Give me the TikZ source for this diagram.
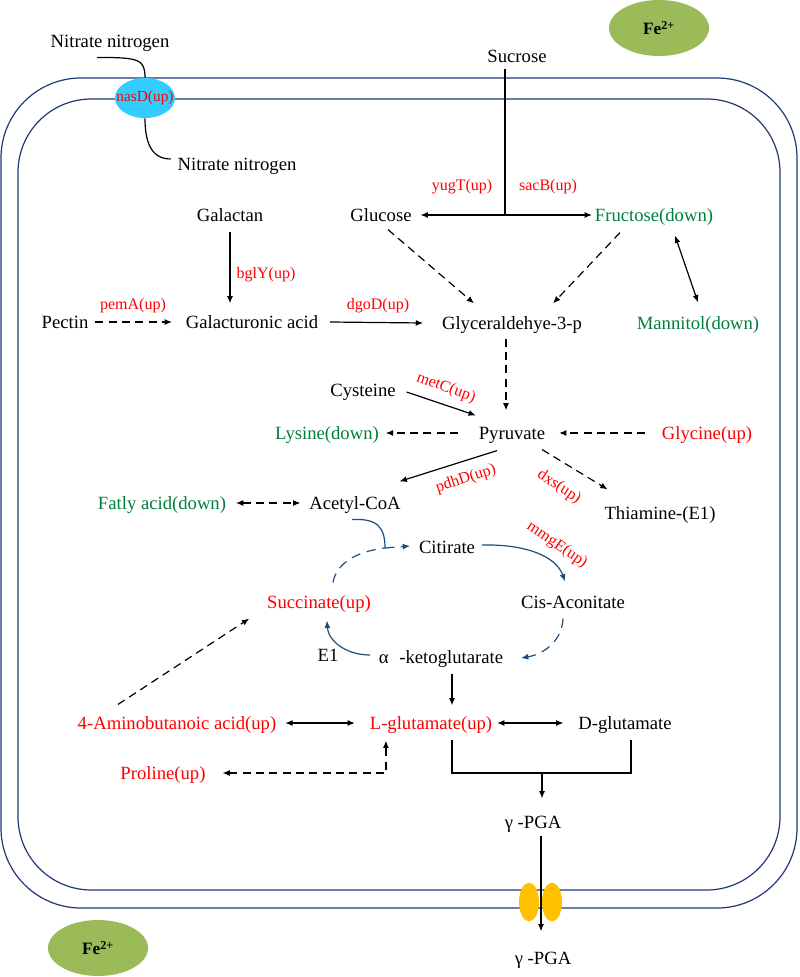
\documentclass[tikz,border=0pt]{standalone}
\usepackage{fontspec}
\setmainfont{Liberation Serif}
\usetikzlibrary{arrows.meta,calc,shapes.geometric}
\definecolor{memb}{RGB}{32,56,120}
\definecolor{cyc}{RGB}{31,78,121}
\definecolor{gr}{RGB}{0,128,60}
\definecolor{rd}{RGB}{255,0,0}
\definecolor{olive}{RGB}{155,187,89}
\definecolor{skyb}{RGB}{51,204,255}
\definecolor{yel}{RGB}{255,192,0}
\begin{document}
\begin{tikzpicture}[x=0.75pt,y=-0.75pt,
  lab/.style={font=\fontsize{14}{16}\selectfont, inner sep=2pt, text height=11pt, text depth=2pt},
  gene/.style={font=\fontsize{12}{14}\selectfont, text=rd, inner sep=0pt},
  arr/.style={-{Latex[length=5.5pt,width=4.5pt]}, line width=0.9pt},
  darr/.style={{Latex[length=5.5pt,width=4.5pt]}-{Latex[length=5.5pt,width=4.5pt]}, line width=0.9pt},
  dsh/.style={dash pattern=on 6pt off 4pt},
  bdsh/.style={dash pattern=on 7pt off 5pt},
  plain/.style={line width=0.9pt},
  fe/.style={ellipse, fill=olive, minimum width=75pt, minimum height=42pt, inner sep=0pt, font=\bfseries\fontsize{13}{15}\selectfont},
  chan/.style={ellipse, fill=yel, minimum width=15pt, minimum height=29pt, inner sep=0pt}
]
\useasboundingbox (0,0) rectangle (799,977);

% membranes
\draw[memb, line width=0.9pt, rounded corners=60pt] (1,78) rectangle (797,908);
\draw[memb, line width=0.9pt, rounded corners=55pt] (18,99) rectangle (780,890);

% Fe ions
\node[fe] (fe1) at (659,28) {Fe\textsuperscript{2+}};
\node[fe] (fe2) at (98,948) {Fe\textsuperscript{2+}};

% nitrate transporter
\node[ellipse, fill=skyb, minimum width=45pt, minimum height=30pt, inner sep=0pt] (nasD) at (145,98) {};
\node[gene, font=\fontsize{11.5}{13}\selectfont] (nasDl) at (nasD) {nasD(up)};
\node[lab] (nit1) at (110,42) {Nitrate nitrogen};
\node[lab] (nit2) at (237,165) {Nitrate nitrogen};
\draw[plain] ($(nit1.south)+(-13,4)$) .. controls (140,57) and (145,60) .. (nasD.north);
\draw[plain] (nasD.south) .. controls (145,140) and (150,159) .. ($(nit2.west)+(-4,-6)$);

% channel
\node[chan] (ch1) at (529,902) {};
\node[chan] (ch2) at (552,902) {};

% nodes
\node[lab] (sucrose) at (517,57) {Sucrose};
\node[lab] (glucose) at (381,215) {Glucose};
\node[lab, text=gr] (fructose) at (654,215) {Fructose(down)};
\node[lab] (galactan) at (230,215) {Galactan};
\node[lab] (pectin) at (65,322) {Pectin};
\node[lab] (galact) at (252,322) {Galacturonic acid};
\node[lab] (g3p) at (512,323) {Glyceraldehye-3-p};
\node[lab, text=gr] (mannitol) at (698,323) {Mannitol(down)};
\node[lab] (cysteine) at (363,390) {Cysteine};
\node[lab] (pyruvate) at (512,433) {Pyruvate};
\node[lab, text=gr] (lysine) at (327,433) {Lysine(down)};
\node[lab, text=rd] (glycine) at (707,433) {Glycine(up)};
\node[lab] (acetyl) at (355,503) {Acetyl-CoA};
\node[lab, text=gr] (fatty) at (162,503) {Fatly acid(down)};
\node[lab] (thiamine) at (660,513) {Thiamine-(E1)};
\node[lab] (citirate) at (447,547) {Citirate};
\node[lab] (cisacon) at (573,602) {Cis-Aconitate};
\node[lab, text=rd] (succinate) at (319,602) {Succinate(up)};
\node[lab] (akg) at (441,657) {α\hspace{8pt}-ketoglutarate};
\node[lab] (e1) at (328,655) {E1};
\node[lab, text=rd] (lglu) at (431,723) {L-glutamate(up)};
\node[lab] (dglu) at (625,723) {D-glutamate};
\node[lab, text=rd] (amino) at (177,723) {4-Aminobutanoic acid(up)};
\node[lab, text=rd] (proline) at (163,773) {Proline(up)};
\node[lab] (pga1) at (533,822) {γ -PGA};
\node[lab] (pga2) at (543,958) {γ -PGA};

% gene labels
\node[gene] (yugT) at (462,187) {yugT(up)};
\node[gene] (sacB) at (548,187) {sacB(up)};
\node[gene] (bglY) at (266,275) {bglY(up)};
\node[gene] (pemA) at (133,306) {pemA(up)};
\node[gene] (dgoD) at (378,306) {dgoD(up)};
\node[gene, rotate=-20] (metC) at (446,388) {metC(up)};
\node[gene, rotate=18] (pdhD) at (466,479) {pdhD(up)};
\node[gene, rotate=-34] (dxs) at (559,487) {dxs(up)};
\node[gene, rotate=-34] (mmgE) at (557,545) {mmgE(up)};

% sucrose split
\coordinate (sj) at (505,215);
\draw[plain] ($(sucrose.south)+(-12,0)$) -- (sj);
\draw[arr] (sj) -- ($(glucose.east)+(6,0)$);
\draw[arr] (sj) -- (fructose.west);

% upper glycolysis
\draw[arr,dsh] ($(glucose.south)+(7,3)$) -- ($(g3p.north)+(-38,-8)$);
\draw[arr,dsh] ($(fructose.south)+(-34,6)$) -- ($(g3p.north)+(41,-8)$);
\draw[darr] ($(fructose.south)+(21,9)$) -- ($(mannitol.north)+(0,-9)$);
\draw[arr] ($(galactan.south)+(0,5)$) -- ($(galact.north)+(-22,-7)$);
\draw[arr,dsh] ($(pectin.east)+(4,0)$) -- ($(galact.west)+(-11,0)$);
\draw[arr] ($(galact.east)+(9,0)$) -- ($(g3p.west)+(-16,0)$);
\draw[arr,dsh] ($(g3p.south)+(-6,4)$) -- ($(pyruvate.north)+(-6,-11)$);

% pyruvate
\draw[arr] ($(cysteine.east)+(8,2)$) -- ($(pyruvate.north west)+(0,-6)$);
\draw[arr,dsh] ($(pyruvate.west)+(-18,0)$) -- ($(lysine.east)+(4,0)$);
\draw[arr,dsh] ($(glycine.west)+(-14,0)$) -- ($(pyruvate.east)+(11,0)$);
\draw[arr] ($(pyruvate.south)+(-15,6)$) -- ($(acetyl.north east)+(-4,-10)$);
\draw[arr,dsh] ($(pyruvate.south east)+(-6,5)$) -- ($(thiamine.north west)+(6,-12)$);
\draw[darr,dsh] ($(fatty.east)+(7,0)$) -- ($(acetyl.west)+(-6,0)$);

% TCA cycle
\coordinate (J) at (385,548);
\draw[cyc, line width=0.9pt] ($(acetyl.south)+(-3,5)$) .. controls (378,518) and (385,528) .. (J);
\draw[cyc, bdsh, arr] (J) -- ($(citirate.west)+(-6,-1)$);
\draw[cyc, bdsh, line width=0.9pt] ($(succinate.north)+(14,-8)$) .. controls (336,566) and (352,552) .. (J);
\draw[cyc, arr] ($(citirate.east)+(4,-2)$) .. controls (525,544) and (556,556) .. ($(cisacon.north)+(-8,-9)$);
\draw[cyc, arr, bdsh] ($(cisacon.south)+(-10,5)$) .. controls (562,640) and (545,654) .. ($(akg.east)+(15,1)$);
\draw[cyc, arr] ($(akg.west)+(-6,-2)$) .. controls (345,655) and (328,640) .. ($(succinate.south)+(8,7)$);

% glutamate
\draw[arr] ($(akg.south)+(11,5)$) -- ($(lglu.north)+(21,-6)$);
\draw[darr] ($(amino.east)+(6,0)$) -- ($(lglu.west)+(-12,0)$);
\draw[darr] ($(lglu.east)+(2,0)$) -- ($(dglu.west)+(-12,0)$);
\draw[arr,dsh] ($(amino.north)+(-59,-7)$) -- ($(succinate.south west)+(-15,5)$);
\draw[darr,dsh] ($(proline.east)+(14,0)$) -| ($(lglu.south west)+(19,6)$);

% PGA
\coordinate (brk) at (542,773);
\draw[plain] ($(lglu.south)+(21,5)$) |- (brk) -| ($(dglu.south)+(6,5)$);
\draw[arr] (brk) -- ($(pga1.north)+(9,-12)$);
\draw[arr] ($(pga1.south)+(8,2)$) -- ($(pga2.north)+(-2,-15)$);
\end{tikzpicture}
\end{document}
